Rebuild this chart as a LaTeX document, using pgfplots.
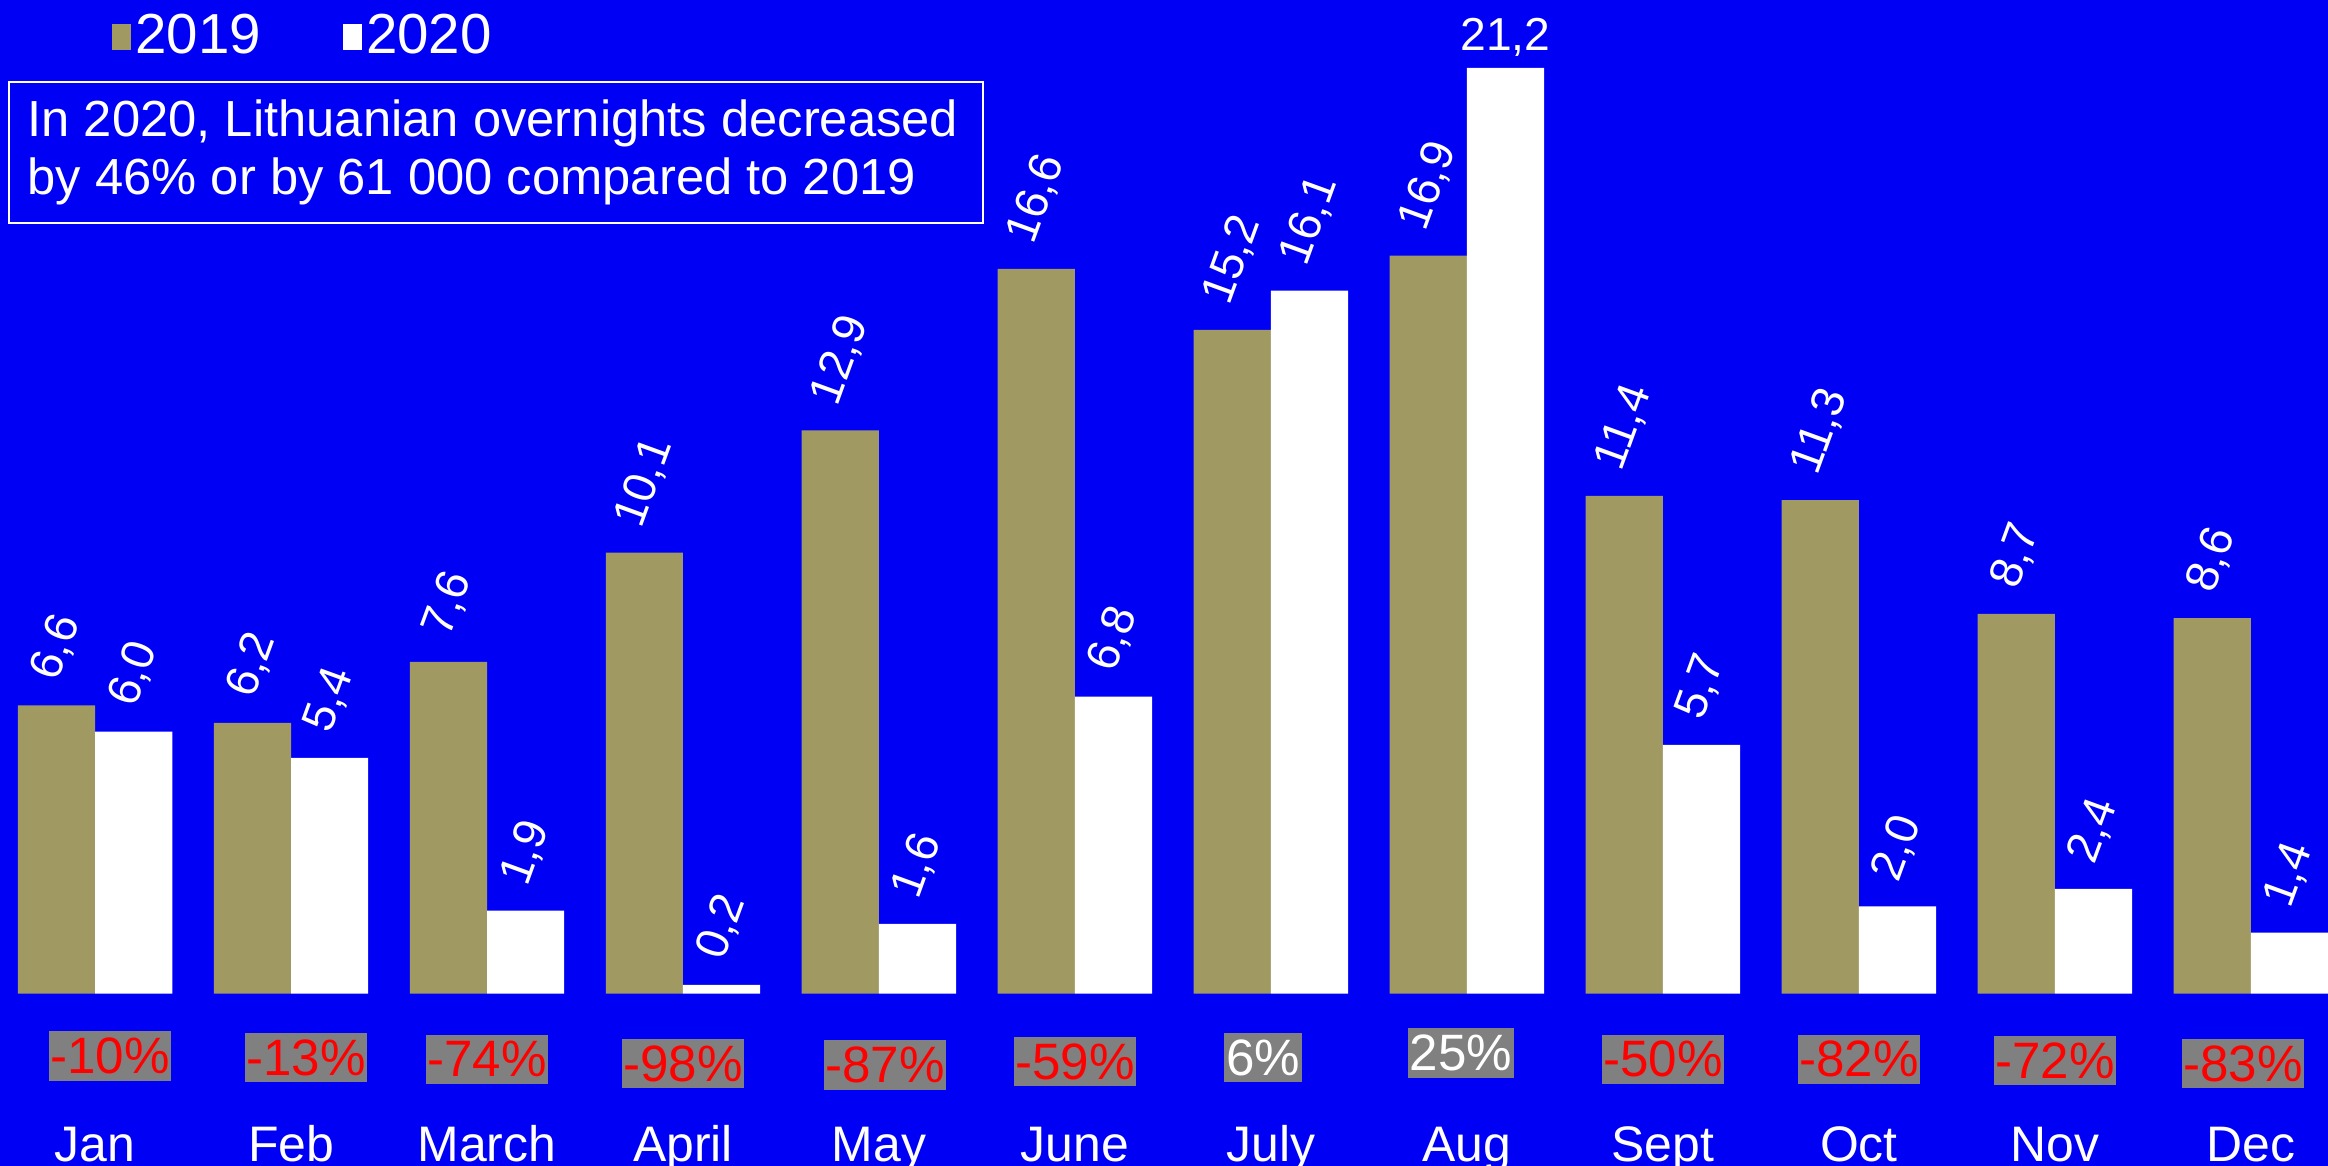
\documentclass[border=0pt]{standalone}
\usepackage{pgfplots}
\pgfplotsset{compat=1.18}
\usepackage{pgfplotstable}
\usepackage{fontspec}
\setmainfont{Liberation Sans}
\definecolor{bgblue}{RGB}{0,0,245}
\definecolor{olivebar}{RGB}{160,154,98}
\definecolor{boxgrey}{RGB}{128,128,128}
\definecolor{pctred}{RGB}{255,0,0}

\pgfplotstableread{
x y rot dy
0 6.6 70 5
1 6.2 70 5
2 7.6 70 5
3 10.1 70 5
4 12.9 70 5
5 16.6 70 5
6 15.2 70 5
7 16.9 70 5
8 11.4 70 5
9 11.3 70 5
10 8.7 70 5
11 8.6 70 5
}\tabA
\pgfplotstableread{
x y rot dy
0 6.0 70 5
1 5.4 70 5
2 1.9 70 5
3 0.2 70 5
4 1.6 70 5
5 6.8 70 5
6 16.1 70 5
7 21.2 0 2.5
8 5.7 70 5
9 2.0 70 5
10 2.4 70 5
11 1.4 70 5
}\tabB
\pgfplotstableread{
x y lab
0.076 -1.43 -10
1.076 -1.46 -13
2.0 -1.50 -74
3.0 -1.60 -98
4.03 -1.63 -87
5.0 -1.56 -59
8.0 -1.50 -50
9.0 -1.50 -82
10.0 -1.53 -72
10.96 -1.60 -83
}\tabNeg
\pgfplotstableread{
x y lab
5.96 -1.46 6
6.97 -1.36 25
}\tabPos

\begin{document}
\begin{tikzpicture}
\begin{axis}[
  name=ax,
  scale only axis, width=20cm, height=10.017cm,
  xmin=-0.485, xmax=11.394, ymin=-3.946, ymax=22.755,
  axis background/.style={fill=bgblue},
  axis line style={draw=none},
  ytick=\empty,
  xtick={0,...,11},
  xticklabels={Jan,Feb,March,April,May,June,July,Aug,Sept,Oct,Nov,Dec},
  major tick length=0pt,
  xticklabel style={font=\fontsize{12.2}{14}\selectfont, text=white, anchor=base, yshift=1.1pt},
  clip=false,
  /pgf/number format/.cd, fixed, fixed zerofill, precision=1, use comma, assume math mode=true,
  /pgfplots/.cd,
  legend columns=2,
  legend style={at={(rel axis cs:0.0478,0.9682)}, anchor=west, draw=none, fill=none, inner sep=0pt,
    nodes={inner sep=0pt, text=white, font=\fontsize{13.8}{16}\selectfont},
    /tikz/every odd column/.append style={column sep=1pt},
    /tikz/every even column/.append style={column sep=20pt}},
  legend image code/.code={\fill[#1] (0pt,-3.25pt) rectangle (4.7pt,3.25pt);},
]
\addplot[ybar, bar width=0.394, bar shift=-0.197, fill=olivebar, draw=none,
  point meta=y,
  visualization depends on={\thisrow{rot} \as \rot},
  visualization depends on={\thisrow{dy} \as \dy},
  nodes near coords={\rotatebox{\rot}{\pgfmathprintnumber{\pgfplotspointmeta}}},
  every node near coord/.append style={text=white, inner sep=0pt, xshift=-9.44pt, yshift=\dy pt, font=\fontsize{11.3}{13}\selectfont}]
  table[x=x,y=y]{\tabA};
\addlegendentry{2019}
\addplot[ybar, bar width=0.394, bar shift=0.197, fill=white, draw=none,
  point meta=y,
  visualization depends on={\thisrow{rot} \as \rot},
  visualization depends on={\thisrow{dy} \as \dy},
  nodes near coords={\rotatebox{\rot}{\pgfmathprintnumber{\pgfplotspointmeta}}},
  every node near coord/.append style={text=white, inner sep=0pt, xshift=9.44pt, yshift=\dy pt, font=\fontsize{11.3}{13}\selectfont}]
  table[x=x,y=y]{\tabB};
\addlegendentry{2020}
\addplot[forget plot, only marks, mark=none, point meta=explicit symbolic,
  nodes near coords={\pgfplotspointmeta\%},
  nodes near coords align={anchor=center},
  every node near coord/.append style={fill=boxgrey, text=pctred, inner xsep=0.4pt, inner ysep=1.6pt,
    font=\fontsize{12.5}{14}\selectfont}]
  table[x=x,y=y,meta=lab]{\tabNeg};
\addplot[forget plot, only marks, mark=none, point meta=explicit symbolic,
  nodes near coords={\pgfplotspointmeta\%},
  nodes near coords align={anchor=center},
  every node near coord/.append style={fill=boxgrey, text=white, inner xsep=0.4pt, inner ysep=1.6pt,
    font=\fontsize{12.5}{14}\selectfont}]
  table[x=x,y=y,meta=lab]{\tabPos};
\draw[white, line width=0.6pt] (rel axis cs:0.00383,0.9299) rectangle (rel axis cs:0.4222,0.8089);
\node[anchor=base west, text=white, align=left, inner sep=0pt, font=\fontsize{12.4}{14.15}\selectfont]
  at (rel axis cs:0.0115,0.8331) {In 2020, Lithuanian overnights decreased\\by 46\% or by 61~000 compared to 2019};
\end{axis}
\pgfresetboundingbox
\path[use as bounding box] (ax.south west) rectangle (ax.north east);
\end{tikzpicture}
\end{document}
